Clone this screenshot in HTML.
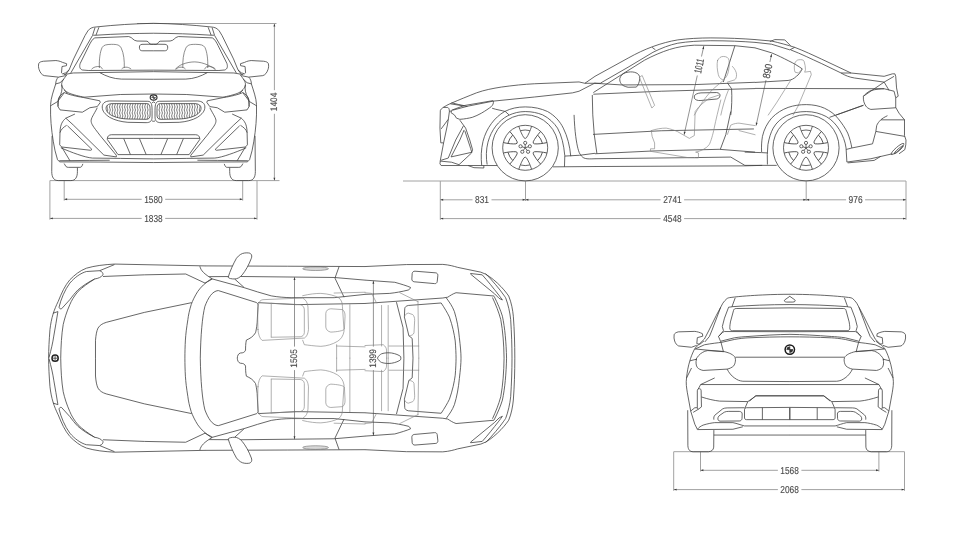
<!DOCTYPE html>
<html><head><meta charset="utf-8"><title>Vehicle dimensions</title>
<style>
html,body{margin:0;padding:0;background:#fff;}
body{width:967px;height:546px;overflow:hidden;font-family:"Liberation Sans",sans-serif;}
svg{display:block}
.l{fill:none;stroke:#404040;stroke-width:.8;stroke-linecap:butt;stroke-linejoin:round}
.g{fill:none;stroke:#858585;stroke-width:.65;stroke-linecap:round;stroke-linejoin:round}
.d{fill:none;stroke:#a2a2a2;stroke-width:1}
.t{font-family:"Liberation Sans",sans-serif;fill:#484848;stroke:#484848;stroke-width:.12;text-anchor:middle;text-rendering:geometricPrecision}
.d2{fill:none;stroke:#4c4c4c;stroke-width:.6}
.a{fill:#3a3a3a;stroke:none}
</style></head>
<body>
<svg style="filter:grayscale(1)" width="967" height="546" viewBox="0 0 967 546">
<rect width="967" height="546" fill="#fff"/>
<!-- dims -->
<path class="d" d="M49.9 180.6L279.5 180.6"/>
<path class="d" d="M137.0 23.5L276.5 23.5"/>
<path class="d" d="M274.4 23.7L274.4 90.2"/>
<path class="d" d="M274.4 113.8L274.4 180.6"/>
<path class="a" d="M274.40 23.70L275.35 26.60L273.45 26.60Z"/>
<path class="a" d="M274.40 180.60L273.45 177.70L275.35 177.70Z"/>
<text class="t" transform="translate(274.4 102.0) rotate(-90.0) scale(0.876 1)" y="2.95" font-size="9.5">1404</text>
<path class="d" d="M64.2 180.6L64.2 200.6"/>
<path class="d" d="M242.7 180.6L242.7 200.6"/>
<path class="d" d="M64.2 199.3L141.7 199.3"/>
<path class="d" d="M165.2 199.3L242.7 199.3"/>
<path class="a" d="M64.20 199.30L67.10 198.35L67.10 200.25Z"/>
<path class="a" d="M242.70 199.30L239.80 200.25L239.80 198.35Z"/>
<text class="t" transform="translate(153.4 199.3) scale(0.832 1)" y="3.25" font-size="10.0">1580</text>
<path class="d" d="M49.9 180.6L49.9 219.7"/>
<path class="d" d="M257.0 180.6L257.0 219.7"/>
<path class="d" d="M49.9 218.4L141.7 218.4"/>
<path class="d" d="M165.2 218.4L257.0 218.4"/>
<path class="a" d="M49.90 218.40L52.80 217.45L52.80 219.35Z"/>
<path class="a" d="M257.00 218.40L254.10 219.35L254.10 217.45Z"/>
<text class="t" transform="translate(153.4 218.4) scale(0.832 1)" y="3.25" font-size="10.0">1838</text>
<path class="d" d="M403.0 181.0L906.0 181.0"/>
<path class="d" d="M440.3 181.0L440.3 219.8"/>
<path class="d" d="M525.5 181.0L525.5 201.0"/>
<path class="d" d="M806.2 181.0L806.2 201.0"/>
<path class="d" d="M906.0 181.0L906.0 219.8"/>
<path class="d" d="M440.3 199.8L472.5 199.8"/>
<path class="d" d="M491.5 199.8L525.5 199.8"/>
<path class="a" d="M440.30 199.80L443.20 198.85L443.20 200.75Z"/>
<path class="a" d="M525.50 199.80L522.60 200.75L522.60 198.85Z"/>
<text class="t" transform="translate(482.0 199.8) scale(0.839 1)" y="3.25" font-size="10.0">831</text>
<path class="d" d="M525.5 199.8L660.6 199.8"/>
<path class="d" d="M684.1 199.8L806.2 199.8"/>
<path class="a" d="M525.50 199.80L528.40 198.85L528.40 200.75Z"/>
<path class="a" d="M806.20 199.80L803.30 200.75L803.30 198.85Z"/>
<text class="t" transform="translate(672.4 199.8) scale(0.832 1)" y="3.25" font-size="10.0">2741</text>
<path class="d" d="M806.2 199.8L846.1 199.8"/>
<path class="d" d="M865.1 199.8L906.0 199.8"/>
<path class="a" d="M806.20 199.80L809.10 198.85L809.10 200.75Z"/>
<path class="a" d="M906.00 199.80L903.10 200.75L903.10 198.85Z"/>
<text class="t" transform="translate(855.6 199.8) scale(0.839 1)" y="3.25" font-size="10.0">976</text>
<path class="d" d="M440.3 218.6L660.6 218.6"/>
<path class="d" d="M684.1 218.6L906.0 218.6"/>
<path class="a" d="M440.30 218.60L443.20 217.65L443.20 219.55Z"/>
<path class="a" d="M906.00 218.60L903.10 219.55L903.10 217.65Z"/>
<text class="t" transform="translate(672.4 218.6) scale(0.832 1)" y="3.25" font-size="10.0">4548</text>
<path class="d2" d="M294.5 277.2L294.5 346.6"/>
<path class="d2" d="M294.5 370.1L294.5 439.2"/>
<path class="a" d="M294.50 277.20L295.45 280.10L293.55 280.10Z"/>
<path class="a" d="M294.50 439.20L293.55 436.30L295.45 436.30Z"/>
<text class="t" transform="translate(294.5 358.4) rotate(-90.0) scale(0.876 1)" y="2.95" font-size="9.5">1505</text>
<path class="d2" d="M373.4 280.9L373.4 346.6"/>
<path class="d2" d="M373.4 370.1L373.4 435.5"/>
<path class="a" d="M373.40 280.90L374.35 283.80L372.45 283.80Z"/>
<path class="a" d="M373.40 435.50L372.45 432.60L374.35 432.60Z"/>
<text class="t" transform="translate(373.4 358.4) rotate(-90.0) scale(0.876 1)" y="2.95" font-size="9.5">1399</text>
<path class="d" d="M673.7 451.7L904.5 451.7"/>
<path class="d" d="M700.5 451.7L700.5 471.5"/>
<path class="d" d="M878.9 451.7L878.9 471.5"/>
<path class="d" d="M700.5 470.3L777.9 470.3"/>
<path class="d" d="M801.4 470.3L878.9 470.3"/>
<path class="a" d="M700.50 470.30L703.40 469.35L703.40 471.25Z"/>
<path class="a" d="M878.90 470.30L876.00 471.25L876.00 469.35Z"/>
<text class="t" transform="translate(789.6 470.3) scale(0.832 1)" y="3.25" font-size="10.0">1568</text>
<path class="d" d="M673.7 451.7L673.7 490.8"/>
<path class="d" d="M904.5 451.7L904.5 490.8"/>
<path class="d" d="M673.7 489.6L777.9 489.6"/>
<path class="d" d="M801.4 489.6L904.5 489.6"/>
<path class="a" d="M673.70 489.60L676.60 488.65L676.60 490.55Z"/>
<path class="a" d="M904.50 489.60L901.60 490.55L901.60 488.65Z"/>
<text class="t" transform="translate(789.6 489.6) scale(0.832 1)" y="3.25" font-size="10.0">2068</text>
<path class="d2" d="M703.8 46.1L701.5 56.5"/>
<path class="d2" d="M697.3 75.5L684.1 134.7"/>
<path class="a" d="M703.80 46.10L704.10 49.14L702.24 48.72Z"/>
<path class="a" d="M684.10 134.70L683.80 131.66L685.66 132.08Z"/>
<text class="t" transform="translate(699.4 66.0) rotate(282.5) scale(0.670 1)" y="3.25" font-size="10.4">1011</text>
<path class="d2" d="M771.6 54.1L769.9 62.0"/>
<path class="d2" d="M766.0 80.1L756.1 125.6"/>
<path class="a" d="M771.60 54.10L771.91 57.14L770.06 56.73Z"/>
<path class="a" d="M756.10 125.60L755.79 122.56L757.64 122.97Z"/>
<text class="t" transform="translate(767.9 71.1) rotate(282.2) scale(0.842 1)" y="3.25" font-size="10.4">890</text>
<!-- front -->
<defs>
<g id="fh" transform="translate(35.19,20) scale(0.16556)" style="vector-effect:non-scaling-stroke">
<!-- roof & pillars -->
<path class="l v" d="M183 330 L205 301 L232 235 L301 94 L318 66 C330 50 343 44 368 42 C480 30 600 22 715 20"/>
<path class="l v" d="M215 320 L264 235 L346 94 L361 47 M385 44 L367 92 L350 92"/>
<path class="l v" d="M367 92 C480 84 600 81 715 80"/>
<!-- glass -->
<path class="l v" d="M360 108 C345 115 335 135 325 155 L272 262 C266 280 268 296 285 302 L320 305 L715 303"/>
<path class="l v" d="M360 108 L565 100 C590 105 590 125 615 127 L675 128 C688 130 686 146 700 147 L715 147"/>
<!-- rear view mirror -->
<path class="l v" d="M715 146 L645 147 C630 148 628 160 630 172 C632 184 640 186 650 186 L715 186"/>
<!-- headrest / seat -->
<path class="l v" style="stroke:#5c5c5c;stroke-width:.7" d="M388 290 C385 240 392 190 405 165 C415 150 430 148 460 147 C495 147 510 150 520 170 C535 200 540 250 538 290"/>
<path class="l v" style="stroke:#5c5c5c;stroke-width:.7" d="M340 298 C350 285 370 278 395 282 L408 298 M522 296 C535 282 560 280 580 297"/>
<!-- cowl -->
<path class="l v" d="M172 330 L230 320 L715 312"/>
<path class="l v" d="M390 318 C430 340 470 355 520 357 L715 358"/>
<!-- hood outline -->
<path class="l v" d="M192 331 C172 355 158 375 160 391 C162 410 180 432 210 444 C240 455 290 466 300 466 L514 450 L715 447"/>
<path class="l v" d="M175 423 L195 443"/>
<!-- mirror -->
<path class="l v" d="M205 301 L185 319 L165 325 L159 319 L162 281 L189 276 L190 264 L165 256 C150 248 135 246 125 245 L50 249 C35 251 25 255 22 262 C18 275 20 290 24 300 C30 318 40 332 55 336 L140 345 L185 336"/>
<path class="l v" d="M140 345 C130 355 124 370 124 386 L150 379 L172 358"/>
<!-- body side -->
<path class="l v" d="M124 386 C112 425 95 470 93 510 L93 573 C95 640 105 720 120 790 L135 844 L148 857 L392 858 L715 861"/>
<path class="l v" d="M160 391 C165 420 160 440 145 471 C138 485 135 505 138 523"/>
<path class="l v" d="M93 518 L135 493 L175 440"/>
<!-- headlight -->
<path class="l v" d="M175 438 C200 450 250 462 290 468 L390 488 L393 498 L375 523 L330 530 L285 557 L150 543 L138 523 L140 478 C145 460 160 448 175 438Z"/>
<!-- curve from headlight tip down to lower lip -->
<path class="l v" d="M375 530 C355 570 335 595 338 612 C340 630 350 643 390 695 L490 817 L490 827"/>
<!-- air intake -->
<path class="l v" d="M240 568 L185 593 C165 610 152 630 150 674 L148 754 L160 767"/>
<path class="l v" d="M185 593 L230 634 L415 816 L490 827"/>
<path class="l v" d="M190 636 C170 648 155 662 150 680 M160 767 L335 787 L343 782 L195 639"/>
<path class="l v" d="M160 767 L210 850 M155 772 C220 800 300 830 345 834 L514 836 L715 839"/>
<!-- lower bumper second line -->
<path class="l v" d="M145 850 L330 848 L450 847"/>
<!-- lower center intake -->
<path class="l v" d="M715 693 L460 693 C445 694 437 702 436 715 L436 722 L500 813 L715 813"/>
<path class="l v" d="M436 715 L715 715"/>
<path class="l v" d="M535 717 L575 812 M630 717 L670 812"/>
<!-- splitter foot -->
<path class="l v" d="M175 867 L185 884 C190 889 195 890 200 890 L270 890 C278 890 282 886 288 869"/>
<!-- tire -->
<path class="l v" d="M102 700 L100 915 C100 950 112 970 140 970 L215 970 C243 970 255 950 255 915 L255 892"/>
<!-- kidney grille -->
<path class="l v" d="M706 545 C706 505 700 492 680 491 L450 489 C420 490 405 505 405 525 C405 550 420 568 450 588 C480 605 520 615 560 618 L670 620 C695 620 706 610 706 585 Z"/>
<path class="l v" d="M694 545 C694 515 690 506 675 505 L465 505 C440 506 428 518 428 533 C428 550 440 565 465 578 C495 592 530 597 560 598 L670 600 C688 600 694 590 694 575 Z"/>
<clipPath id="kc"><path d="M694 545 C694 515 690 506 675 505 L465 505 C440 506 428 518 428 533 C428 550 440 565 465 578 C495 592 530 597 560 598 L670 600 C688 600 694 590 694 575 Z"/></clipPath>
<g clip-path="url(#kc)"><path class="l v" style="stroke-width:.7" d="M436.0 498 q5 9 0 18 t0 18 t0 18 t0 18 t0 18 t0 18M451.2 498 q5 9 0 18 t0 18 t0 18 t0 18 t0 18 t0 18M466.4 498 q5 9 0 18 t0 18 t0 18 t0 18 t0 18 t0 18M481.6 498 q5 9 0 18 t0 18 t0 18 t0 18 t0 18 t0 18M496.8 498 q5 9 0 18 t0 18 t0 18 t0 18 t0 18 t0 18M512.0 498 q5 9 0 18 t0 18 t0 18 t0 18 t0 18 t0 18M527.2 498 q5 9 0 18 t0 18 t0 18 t0 18 t0 18 t0 18M542.4 498 q5 9 0 18 t0 18 t0 18 t0 18 t0 18 t0 18M557.6 498 q5 9 0 18 t0 18 t0 18 t0 18 t0 18 t0 18M572.8 498 q5 9 0 18 t0 18 t0 18 t0 18 t0 18 t0 18M588.0 498 q5 9 0 18 t0 18 t0 18 t0 18 t0 18 t0 18M603.2 498 q5 9 0 18 t0 18 t0 18 t0 18 t0 18 t0 18M618.4 498 q5 9 0 18 t0 18 t0 18 t0 18 t0 18 t0 18M633.6 498 q5 9 0 18 t0 18 t0 18 t0 18 t0 18 t0 18M648.8 498 q5 9 0 18 t0 18 t0 18 t0 18 t0 18 t0 18M664.0 498 q5 9 0 18 t0 18 t0 18 t0 18 t0 18 t0 18M679.2 498 q5 9 0 18 t0 18 t0 18 t0 18 t0 18 t0 18"/></g>
<path class="l v" d="M706 500 L715 495 M706 610 L715 612"/>
</g>
</defs>
<style>.v{vector-effect:non-scaling-stroke}</style>
<use href="#fh"/>
<use href="#fh" transform="translate(307.1,0) scale(-1,1)"/>
<!-- badge -->
<ellipse cx="153.6" cy="97.5" rx="3.4" ry="2.6" fill="#fff" stroke="#2a2a2a" stroke-width="1.1"/>
<path d="M153.6 95.8V99.2M151.4 97.5H155.8" stroke="#2a2a2a" stroke-width=".55"/>
<path d="M153.6 97.5V95.9A2 1.6 0 0 0 151.6 97.5ZM153.6 97.5V99.1A2 1.6 0 0 0 155.6 97.5Z" fill="#444"/>
<path class="l" style="stroke:#5c5c5c;stroke-width:.7" d="M175.2 69.3 C178 66.5 180 65.2 182.7 64.2 C187 62.5 191 61.9 194.8 61.9 C199 62 204 63.2 207.9 65.1 C211 66.5 213.5 68 215.4 69.8"/>

<!-- side -->
<defs><g id="wheel"><circle class="l" r="33.1"/><circle class="l" r="22.5"/><g transform="rotate(0)"><path class="l" d="M-6.4 -21.5 C-5 -17 -3 -12.5 -1.2 -10 Q0 -8.6 1.2 -10 C3 -12.5 5 -17 6.4 -21.5"/><path class="l" d="M-4.6 -17.2 Q0 -18.4 4.6 -17.2"/></g><g transform="rotate(-60)"><path class="l" d="M-6.4 -21.5 C-5 -17 -3 -12.5 -1.2 -10 Q0 -8.6 1.2 -10 C3 -12.5 5 -17 6.4 -21.5"/><path class="l" d="M-4.6 -17.2 Q0 -18.4 4.6 -17.2"/></g><g transform="rotate(-120)"><path class="l" d="M-6.4 -21.5 C-5 -17 -3 -12.5 -1.2 -10 Q0 -8.6 1.2 -10 C3 -12.5 5 -17 6.4 -21.5"/><path class="l" d="M-4.6 -17.2 Q0 -18.4 4.6 -17.2"/></g><g transform="rotate(-180)"><path class="l" d="M-6.4 -21.5 C-5 -17 -3 -12.5 -1.2 -10 Q0 -8.6 1.2 -10 C3 -12.5 5 -17 6.4 -21.5"/><path class="l" d="M-4.6 -17.2 Q0 -18.4 4.6 -17.2"/></g><g transform="rotate(-240)"><path class="l" d="M-6.4 -21.5 C-5 -17 -3 -12.5 -1.2 -10 Q0 -8.6 1.2 -10 C3 -12.5 5 -17 6.4 -21.5"/><path class="l" d="M-4.6 -17.2 Q0 -18.4 4.6 -17.2"/></g><g transform="rotate(-300)"><path class="l" d="M-6.4 -21.5 C-5 -17 -3 -12.5 -1.2 -10 Q0 -8.6 1.2 -10 C3 -12.5 5 -17 6.4 -21.5"/><path class="l" d="M-4.6 -17.2 Q0 -18.4 4.6 -17.2"/></g><circle class="l" cx="0.00" cy="-4.90" r="1.6"/><path class="l" d="M0 0L0.00 -3.33"/><circle class="l" cx="4.66" cy="-1.51" r="1.6"/><path class="l" d="M0 0L3.17 -1.03"/><circle class="l" cx="2.88" cy="3.96" r="1.6"/><path class="l" d="M0 0L1.96 2.70"/><circle class="l" cx="-2.88" cy="3.96" r="1.6"/><path class="l" d="M0 0L-1.96 2.70"/><circle class="l" cx="-4.66" cy="-1.51" r="1.6"/><path class="l" d="M0 0L-3.17 -1.03"/></g></defs>
<g transform="translate(435,25) scale(0.16556)">
<!-- ===== T00 : x435-595 y25-115 ===== -->
<g>
<path class="l v" d="M50 498 C65 488 78 481 92 475 C150 450 200 430 250 410 C300 392 350 383 400 375 C470 365 540 358 600 355 L870 344 L905 352"/>
<path class="l v" d="M105 515 L200 490 L350 460 L600 435 L830 410 L870 400 L967 350"/>
<path class="l v" d="M905 352 L1002 352"/>
<path class="l v" d="M92 476 L195 492"/>
</g>
<!-- ===== T01 : x435-595 y95-185 ===== -->
<g transform="translate(0,422.8)">
<!-- nose / kidney side -->
<path class="l v" d="M50 75 C40 82 33 88 32 95 L30 200 L35 289 L52 289"/>
<path class="l v" d="M50 75 L75 75 C83 77 87 84 87 100 L80 150 L75 181 L52 289"/>
<path class="l v" d="M80 147 L37 205"/>
<path class="l v" d="M52 289 L32 396 L30 416 L37 426 L375 426"/>
<path class="l v" d="M87 100 L100 95"/>
<!-- headlight -->
<path class="l v" d="M100 92 L175 64 L350 34"/>
<path class="l v" d="M100 95 L97 107 L117 120 L130 140 L150 147 C180 145 205 140 225 135 C245 128 262 120 280 110 C305 95 325 82 340 70 C350 60 355 50 352 35"/>
<path class="l v" d="M100 47 L140 57 L175 64"/>
<!-- fender creases -->
<path class="l v" d="M345 80 C375 90 400 92 425 100 L447 120"/>
<!-- lower intake side -->
<path class="l v" d="M150 152 L185 200 L210 272 L227 331 L220 351 L145 421"/>
<path class="l v" d="M172 186 L125 272 L80 381 L37 394"/>
<path class="l v" d="M176 211 L150 272 L97 374 L222 346 L215 322 L180 216"/>
<path class="l v" d="M30 399 L100 406 L145 421"/>
<path class="l v" d="M200 426 L235 439 L295 441 L295 426"/>
<!-- front arch -->
<path class="l v" d="M282 425 C277 380 278 330 290 280 C310 200 360 135 420 100 C460 80 500 72 545 72 C600 72 640 82 680 100 C725 125 755 160 775 200 C800 250 815 310 820 370"/>
<path class="l v" d="M315 420 C308 380 308 330 320 285 C340 210 385 155 440 125 C475 108 510 100 545 100 C585 100 620 108 650 120 C690 140 720 170 740 200 C765 245 778 300 784 367 L782 434"/>
<!-- sill front -->
<path class="l v" d="M784 369 L874 364 L967 352"/>
<path class="l v" d="M712 434 L967 432"/>
<!-- door leading lines -->
<path class="l v" d="M840 120 C842 170 845 210 850 250 C858 310 868 350 880 362 C895 385 910 388 967 385"/>
<path class="l v" d="M950 0 L953 120 L962 240 L978 354"/>
</g>
<!-- ===== T10 : x595-755 y25-115 ===== -->
<g transform="translate(966.4,0)">
<path class="l v" d="M-61 352 L0 310 L200 200 C250 172 300 148 350 130 C400 112 450 98 500 90 C560 82 630 78 700 78 C800 78 890 82 967 88"/>
<path class="l v" d="M35 350 L200 255 C250 225 300 195 350 165 C400 140 450 120 500 110 C560 100 630 96 700 95 C800 95 890 99 967 105"/>
<path class="l v" d="M345 135 L365 150"/>
<path class="l v" d="M-10 408 L160 300 L300 212 C350 186 400 164 450 148 C500 132 550 125 600 122 L845 125 L967 138"/>
<!-- belt lines -->
<path class="l v" d="M0 352 L160 362 L600 360 L967 346"/>
<path class="l v" d="M-10 418 L400 400 L967 384"/>
<!-- mirror -->
<path class="l v" d="M150 322 C155 305 170 292 185 288 C205 282 225 282 240 286 C262 292 272 305 270 325 C268 345 262 362 250 375 L200 376 C180 372 165 365 158 355 C152 345 148 335 150 322Z"/>
<!-- steering wheel -->
<path class="g v" d="M270 315 L285 305 L360 485 L345 500 Z"/>
<!-- B pillar -->
<path class="l v" d="M845 125 L775 345"/>
<path class="l v" d="M800 350 L825 385 C828 440 826 500 820 544"/>
<!-- headrest -->
<path class="g v" d="M740 215 C748 198 760 190 775 190 C795 190 808 198 810 215 C812 250 808 280 800 300 C792 318 782 328 770 330 C755 325 748 312 745 300 C738 270 735 240 740 215Z"/>
<path class="g v" d="M830 250 C845 265 855 285 855 300 C855 318 850 328 842 332 L800 345"/>
<!-- door handle -->
<path class="l v" d="M600 428 C605 418 620 412 640 410 L735 408 C750 410 757 418 755 428 C752 440 745 445 735 447 L640 456 C620 458 605 452 600 442 Z"/>
<!-- seat back lines -->
<path class="g v" d="M775 335 C745 360 720 380 700 400 C660 445 625 500 600 544"/>
<path class="g v" d="M805 395 C785 440 770 500 760 544"/>
</g>
<!-- ===== T11 : x595-755 y95-185 ===== -->
<g transform="translate(966.4,422.8)">
<path class="l v" d="M-12 238 L400 216 L960 205"/>
<path class="l v" d="M0 355 L350 338 L750 328 L967 345"/>
<path class="l v" d="M0 385 L600 378 L820 375 L905 425"/>
<path class="l v" d="M0 432 L905 428 L1010 425"/>
<path class="l v" d="M820 100 L790 240 L757 328"/>
<!-- seat grey -->
<path class="g v" d="M340 215 C370 205 400 200 430 200 C455 205 480 212 500 222 L570 262 L600 245 L605 100 C625 70 655 45 690 20 L750 0"/>
<path class="g v" d="M340 215 L345 250 L360 290 L360 325 L335 325 L335 340 L560 378 L625 380 L625 350 L610 345"/>
<path class="g v" d="M760 30 C745 90 730 150 720 200 C712 240 700 280 690 300 C670 325 640 338 610 345"/>
<!-- rear seat cushion -->
<path class="g v" d="M800 238 L820 182 C840 172 860 170 870 170 L967 185"/>
<path class="g v" d="M870 215 L967 240"/>
<!-- steering wheel bottom & handle bottom covered in T10 -->
</g>
<!-- ===== T20 : x755-915 y25-115 ===== -->
<g transform="translate(1932.8,0)">
<path class="l v" d="M0 88 L100 97 C150 108 200 122 240 135 C300 158 350 182 400 205 L580 290 L780 310 L830 295 L845 295 L850 310"/>
<path class="l v" d="M90 100 L120 88 L180 90 L215 125"/>
<path class="l v" d="M0 105 L100 116 L210 150 L240 135"/>
<path class="l v" d="M215 150 C280 175 340 205 400 232 L520 290 L580 290"/>
<path class="l v" d="M520 290 C545 305 570 315 600 320 L780 345 L840 310"/>
<!-- window glass rear -->
<path class="l v" d="M0 138 L100 168 C140 184 170 200 200 215 C235 232 262 248 285 265 C275 285 265 300 250 310 C235 325 220 332 200 335 L0 347"/>
<!-- beltline -->
<path class="l v" d="M0 383 L780 385"/>
<!-- headrest rear -->
<path class="g v" d="M240 232 C245 218 255 210 265 210 C280 208 292 210 296 218 C302 235 305 255 305 270 L300 285 L335 280 L340 300 L260 490 L230 544"/>
<path class="g v" d="M240 232 C236 250 236 270 242 285 L262 290 L285 268"/>
<path class="g v" d="M215 335 L130 470 L80 544"/>
<!-- tail lamp -->
<path class="l v" d="M655 430 C668 415 685 402 700 396 C730 388 760 385 780 385 L840 400 L850 440 L850 500 L700 510 C685 505 675 498 670 490 C660 475 652 455 655 430Z"/>
<!-- spoiler -->
<path class="l v" d="M780 345 L810 395 M850 310 L855 380 L865 430 L850 440"/>
<path class="l v" d="M655 485 L490 544"/>
<path class="l v" d="M780 345 L655 430"/>
</g>
<!-- ===== T21 : x755-915 y95-185 ===== -->
<g transform="translate(1932.8,422.8)">
<path class="l v" d="M40 345 C38 310 40 280 45 250 C55 205 75 170 100 140 C130 108 165 88 200 75 C235 63 270 58 310 58 C350 58 390 66 420 80 C455 97 480 115 500 140 C525 170 545 200 560 230 C572 260 580 290 585 320"/>
<path class="l v" d="M75 420 C73 380 74 340 78 300 C85 260 95 228 110 200 C130 165 160 140 190 125 C225 108 265 100 310 100 C355 100 395 112 430 130 C465 150 490 178 510 210 C530 245 545 280 550 320 L555 405"/>
<path class="l v" d="M450 135 L655 62"/>
<path class="l v" d="M850 75 L870 110 L903 150 L903 245 L912 272 L911 300 L905 330 L870 355"/>
<path class="l v" d="M800 125 C780 135 768 142 760 150 C748 162 740 172 735 185 L730 220 L905 250"/>
<path class="l v" d="M730 220 L710 295 L585 320"/>
<path class="l v" d="M760 150 L905 150"/>
<path class="l v" d="M555 405 L700 385 L830 355"/>
<path class="l v" d="M560 410 L720 395 L760 370"/>
<ellipse class="l v" cx="861" cy="326" rx="50" ry="11" transform="rotate(-41 861 326)"/>
<ellipse class="l v" cx="868" cy="331" rx="36" ry="6" transform="rotate(-41 868 331)"/>
<path class="l v" d="M551 329 L585 320"/>
<path class="l v" d="M-62 345 L40 348 L76 350"/>
<path class="l v" d="M-62 425 L131 425"/>
<!-- 890 lower -->
</g>
</g>

<use href="#wheel" transform="translate(525.2,147.8)"/>
<use href="#wheel" transform="translate(806,147.8)"/>

<!-- top -->
<defs>
<g id="th" transform="translate(45,250) scale(0.16556)">
<!-- ===== P00 ===== -->
<g>
<path class="l v" d="M22 653 C22 600 25 545 30 480 C38 410 55 360 80 310 C100 260 120 215 150 180 C180 150 210 125 250 110 C300 95 360 88 420 85 L967 96"/>
<path class="l v" d="M85 345 C95 300 120 240 150 200 C180 165 215 140 250 130 L330 125 C345 130 352 140 350 150 C340 165 320 172 300 175 C260 195 230 215 200 240 C180 260 165 280 150 300 L100 355 C92 358 85 352 85 345Z"/>
<path class="l v" d="M330 125 L420 88"/>
<path class="l v" d="M350 160 L600 150 L850 145 L967 200"/>
<path class="l v" d="M300 175 C260 200 225 225 200 250 C175 280 160 305 150 330 C130 375 118 415 110 450 C100 510 96 580 95 653"/>
<path class="l v" d="M48 382 L78 372 C70 420 62 470 53 520 C47 560 38 600 24 650"/>
<!-- hood dome -->
<path class="l v" d="M305 653 L305 545 C308 510 312 490 320 472 C330 455 345 445 370 437 L600 377 L886 318"/>
<!-- cowl -->
<path class="l v" d="M1008 172 C970 195 940 225 923 250 C905 278 892 305 883 330 C872 365 866 395 863 420 C855 470 850 510 848 544 C846 580 845 620 845 653"/>
<path class="l v" d="M1046 245 C1010 248 985 290 966 340 C950 400 940 520 938 653"/>
</g>
<!-- ===== P10 ===== -->
<g transform="translate(966.4,0)">
<path class="l v" d="M0 96 L500 98 L967 100"/>
<path class="l v" d="M-31 98 C-25 125 -5 145 45 175"/>
<path class="l v" d="M25 161 L210 160 L780 166 L967 182"/>
<!-- mirror -->
<path class="l v" style="fill:#fff" d="M140 165 C150 130 170 85 190 50 C205 30 222 20 240 18 C258 16 272 18 275 22 C285 30 283 42 280 50 C265 90 245 125 225 150 C212 165 195 175 180 175 C160 175 145 172 140 165Z"/>
<path class="l v" d="M180 176 L235 225"/>
<!-- roof side / A pillar outer -->
<path class="l v" d="M0 200 L45 175 L235 227 C290 245 345 262 400 277 C440 284 480 287 520 288 L780 288 L967 268"/>
<!-- roof inner edge -->
<path class="l v" d="M320 318 L400 322 L550 330 L967 323"/>
<!-- windshield glass -->
<path class="l v" d="M80 245 L310 317 C318 322 322 328 320 340 L315 440 C312 470 308 490 305 500 C290 525 270 535 250 544 C245 565 245 590 245 605 C240 618 230 622 215 622 C200 625 196 640 195 653"/>
<!-- B pillar marker -->
<path class="l v" d="M810 100 L785 170 L840 285"/>
<!-- door handle -->
<ellipse cx="668" cy="113" rx="78" ry="11" fill="#d8d8d8" stroke="#555" stroke-width="3"/>
<!-- front seat (grey) -->
<path class="g v" d="M320 480 C318 420 318 370 322 335 C325 312 335 302 350 300 L590 290 C610 300 620 320 622 345 L625 480 C622 510 612 525 600 532 L345 546 C330 535 322 510 320 480Z"/>
<path class="g v" d="M400 322 L400 525 M400 322 L575 330 C592 335 600 345 600 362 L600 500 C598 515 590 522 575 524 L400 527"/>
<path class="g v" d="M590 276 C630 266 670 262 700 262 C745 265 785 275 810 290 C825 305 830 320 830 340 L840 490 C835 520 820 540 800 552 C770 570 735 580 700 582 C660 580 625 575 600 572 L590 545"/>
<path class="g v" d="M730 380 C732 365 742 357 760 355 L830 360 C842 368 846 380 846 400 L842 478 C835 488 800 494 760 496 C742 492 732 482 730 468Z"/>
<!-- rear seat / console grey -->
<path class="g v" d="M780 260 L967 255 M875 330 L875 653 M795 572 L795 653 M795 580 L967 585"/>
</g>
<!-- ===== P20 ===== -->
<g transform="translate(1932.8,0)">
<path class="l v" d="M0 100 L250 88 L470 87 C510 90 535 98 560 105 L700 134 C735 145 770 172 800 200 C830 228 852 255 868 278 C885 320 892 360 896 400 C902 480 905 570 905 653"/>
<path class="l v" d="M728 142 C770 185 812 235 838 272 C845 282 848 286 850 290 C865 330 875 375 880 420 C885 500 888 580 888 653"/>
<path class="l v" d="M638 142 L708 150 C740 185 775 230 808 272 C818 285 825 295 830 302 L810 292 L783 265 L638 146Z"/>
<path class="l v" d="M780 280 C800 320 818 360 830 400 C845 470 853 560 855 653"/>
<path class="l v" d="M770 287 C790 330 808 375 820 420 C833 490 839 570 840 653"/>
<!-- fuel cap -->
<path class="l v" d="M285 142 C287 132 293 128 302 128 L428 138 C437 140 441 146 440 156 L436 192 C434 200 428 204 420 203 L297 192 C287 190 283 184 283 175Z"/>
<!-- quarter window -->
<path class="l v" d="M0 182 L180 195 C215 205 250 215 275 226 C272 235 268 240 260 242 C220 252 185 258 150 262 L0 268"/>
<!-- roof rear / C pillar -->
<path class="l v" d="M0 323 L470 290 L500 285 C515 275 530 265 550 258 L780 278"/>
<path class="l v" d="M490 288 C510 315 528 340 540 372 C555 420 565 475 570 530 C576 580 580 620 580 653"/>
<path class="l v" d="M460 320 C480 350 498 380 510 405 C528 455 540 510 545 550 C548 590 550 625 550 653"/>
<path class="l v" d="M460 320 L262 335 C248 338 240 345 240 355 L238 405 L265 518 L285 534 L290 653"/>
<path class="l v" d="M190 315 L230 470 L235 653"/>
<!-- grey rear seat -->
<path class="g v" d="M100 335 L100 580 M140 335 L140 653 M320 310 L325 653 M145 580 L325 580"/>
<path class="g v" d="M238 405 C242 390 250 383 262 381 L288 390 C297 398 300 410 300 425 L296 500 C292 512 282 518 265 518"/>
<path class="g v" d="M0 577 L110 572 C122 580 130 592 130 605 L130 653"/>
<path class="g v" d="M0 258 L40 262 L70 320 M210 258 L320 312"/>
<!-- shark fin half -->
<path class="l v" d="M75 653 C82 640 90 632 100 627 C120 620 140 620 160 622 C185 626 205 635 215 643 L217 653"/>
</g>
</g>
</defs>
<use href="#th"/>
<use href="#th" transform="translate(0,716.25) scale(1,-1)"/>
<!-- badge -->
<circle cx="55.1" cy="358.2" r="3.1" fill="#fff" stroke="#222" stroke-width="1.5"/>
<path d="M55.1 356V360.4M52.9 358.2H57.3" stroke="#222" stroke-width=".7"/>

<!-- rear -->
<defs>
<g id="rh" transform="translate(670,288) scale(0.16556)">
<g>
<!-- roof -->
<path class="l v" d="M369 57 C420 50 500 45 560 42 C620 39 680 38 724 38"/>
<path class="l v" d="M369 57 C355 58 348 61 344 64 C335 72 327 80 319 92 L279 167 L236 254 L208 308 L150 365 C135 395 125 420 120 440 C110 470 103 510 100 544"/>
<path class="l v" d="M394 59 L374 114 L354 116"/>
<path class="l v" d="M374 113 C480 105 600 100 724 100"/>
<path class="l v" d="M354 116 L329 182 L316 233 L323 258 L293 293 L308 328 L323 386"/>
<path class="l v" d="M306 117 L254 254 L238 293 L210 326"/>
<!-- rear window -->
<path class="l v" d="M724 120 L400 124 C390 124 386 128 384 135 L365 205 C362 225 360 240 362 248 C364 255 370 258 378 258 L724 258"/>
<path class="l v" d="M293 293 L318 268 L328 263 L724 264"/>
<!-- trunk / spoiler -->
<path class="l v" d="M308 321 L388 301 C420 296 450 294 471 293 C560 286 650 281 724 280"/>
<path class="l v" d="M153 368 L208 343 C250 335 290 331 313 328 L388 311 C420 305 450 302 471 301 C560 297 650 295 724 295"/>
<path class="l v" d="M395 418 L724 418"/>
<!-- antenna -->
<path class="l v" d="M724 50 L693 72 C688 78 692 84 705 85 L724 85"/>
<!-- mirror -->
<path class="l v" d="M205 320 L180 340 L162 336 L165 300 L198 291 L196 276 C180 268 165 264 150 262 L50 265 C38 268 28 273 25 282 C23 295 24 310 28 320 C33 335 42 346 52 350 L130 358 L162 346"/>
<!-- tail lamp -->
<path class="l v" d="M155 435 C165 415 180 398 195 390 C205 383 215 380 228 378 L323 383 C345 388 360 394 368 398 C380 405 390 412 393 420 C396 430 396 436 395 442 C393 455 390 463 385 470 C375 480 360 487 345 490 L200 498 C185 495 172 488 165 480 C158 470 154 450 160 430Z"/>
<path class="l v" d="M150 368 L325 385"/>
<path class="l v" d="M120 440 L160 430"/>
<path class="l v" d="M345 490 C355 510 370 530 390 544"/>
</g>
<g transform="translate(0,483.2)">
<path class="l v" d="M100 60 C95 90 100 120 105 150 L125 260 L150 340 L165 370"/>
<path class="l v" d="M100 60 L130 0"/>
<path class="l v" d="M390 60 C405 72 420 78 440 80 L724 82"/>
<path class="l v" d="M270 60 L185 100 L724 100"/>
<path class="l v" d="M185 100 L170 128"/>
<path class="l v" d="M165 138 C165 128 170 125 177 125 C185 125 188 130 188 138 L190 235 L170 250 L165 240Z"/>
<path class="l v" d="M190 175 C230 188 265 196 300 200 L470 203 L520 168 L930 168 L967 200 M470 203 L452 244"/>
<path class="l v" d="M724 238 L462 240 C454 241 450 245 450 252 L450 303 C451 309 455 312 462 312 L724 312"/>
<path class="l v" d="M558 240 L558 312 M723.6 240 L723.6 312"/>
<path class="l v" d="M265 312 C263 298 266 290 272 284 L318 247 C325 243 335 241 345 241 L450 240"/>
<path class="l v" d="M290 300 C292 292 297 288 303 284 L328 267 C335 263 345 262 355 262 L418 262 C430 263 436 268 436 278 L435 305 C434 314 428 320 418 320 L302 321 C292 320 287 312 290 300Z"/>
<path class="l v" d="M165 370 C175 358 188 350 200 345 C225 337 250 332 270 330 L380 330 C405 335 430 345 450 350 L724 350"/>
<path class="l v" d="M165 372 L380 370 L440 355"/>
<path class="l v" d="M140 268 L170 250 M125 260 L150 240 L165 240"/>
<path class="l v" d="M265 405 L724 405"/>
<!-- tire -->
<path class="l v" d="M107 255 L108 470 C110 495 120 505 140 506 L232 506 C252 504 262 495 264 478 L265 375"/>
</g>
</g>
</defs>
<use href="#rh"/>
<use href="#rh" transform="translate(1579.6,0) scale(-1,1)"/>
<!-- badge -->
<circle cx="789.8" cy="349.6" r="4.7" fill="#fff" stroke="#1a1a1a" stroke-width="1.5"/>
<path d="M789.8 346.4V352.8M786.6 349.6H793" stroke="#1a1a1a" stroke-width=".7"/>
<path d="M789.8 349.6L789.8 346.4A3.2 3.2 0 0 0 786.6 349.6ZM789.8 349.6L789.8 352.8A3.2 3.2 0 0 0 793 349.6Z" fill="#333"/>


</svg>
</body></html>
